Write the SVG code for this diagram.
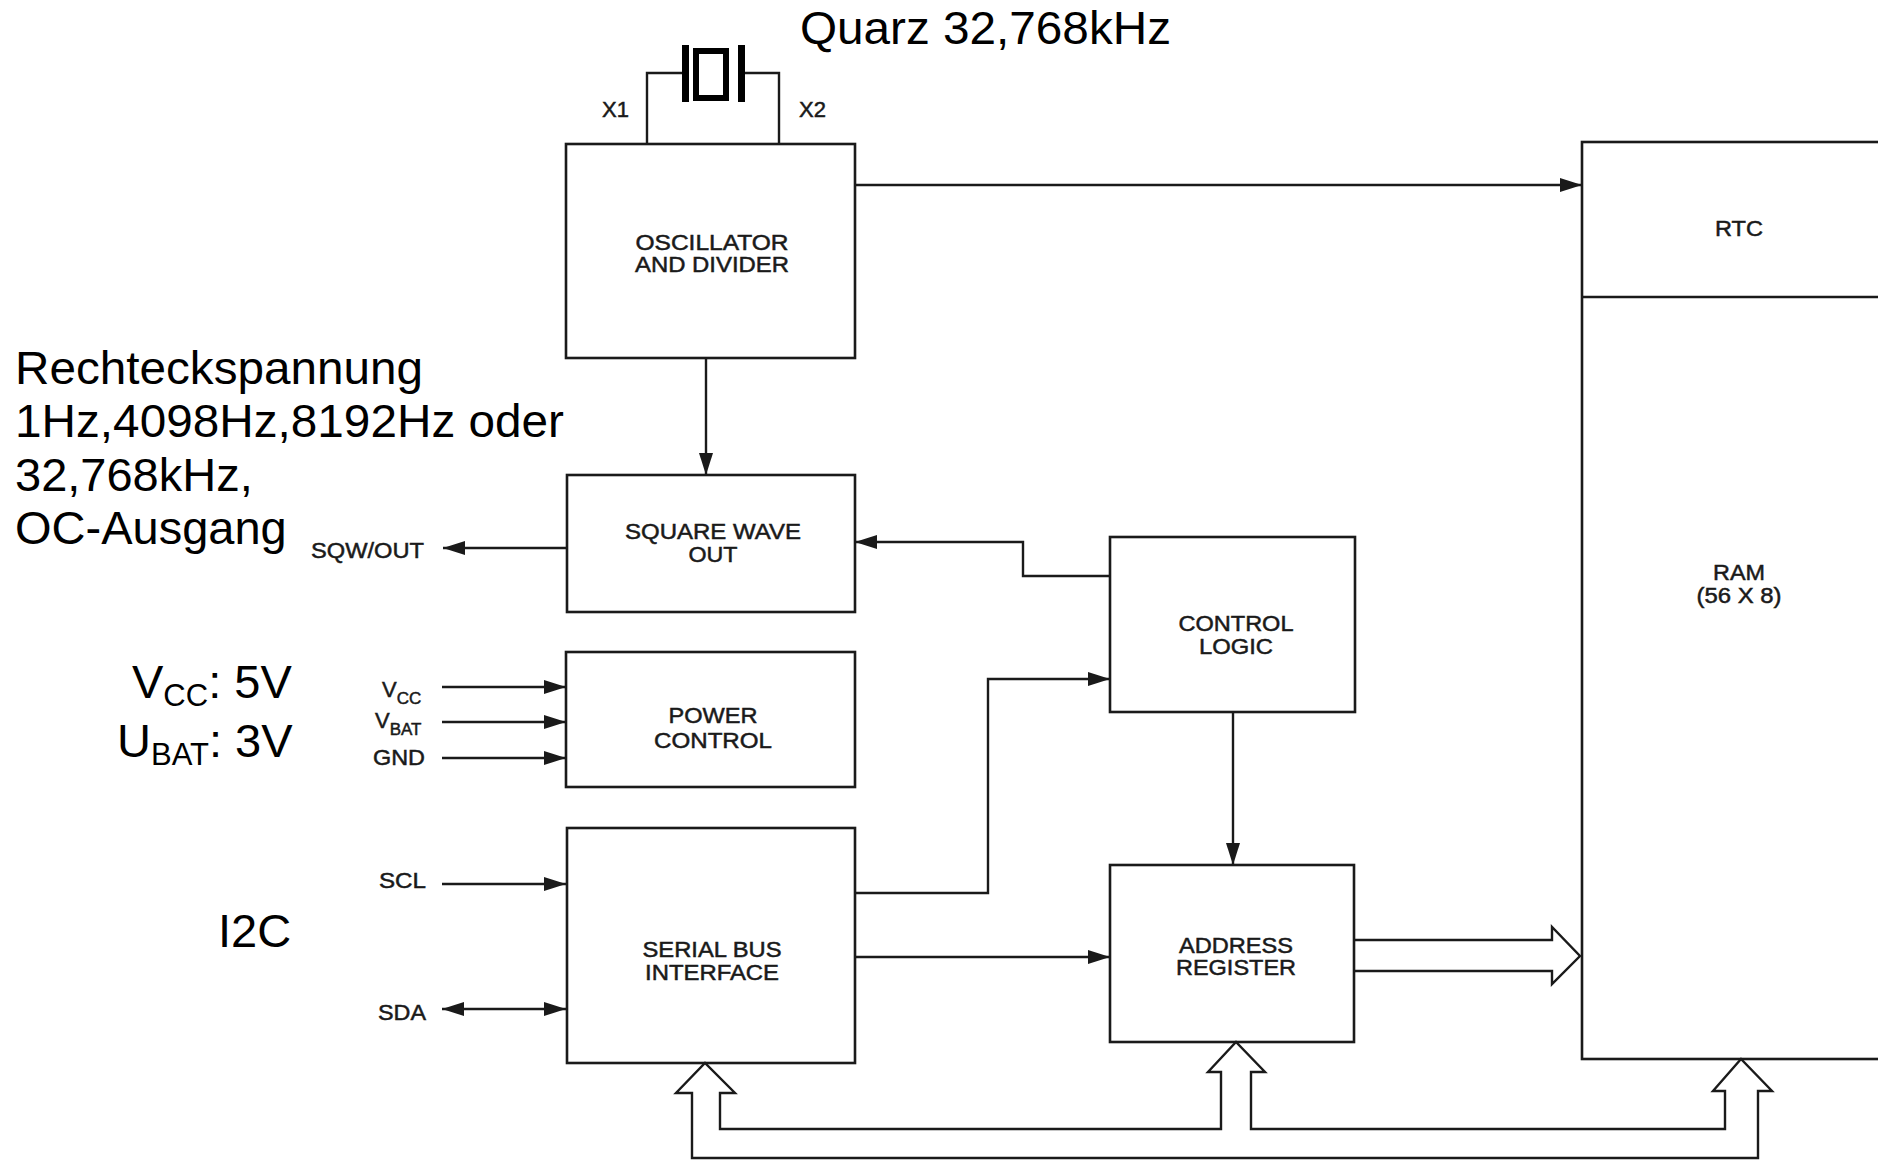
<svg xmlns="http://www.w3.org/2000/svg" width="1878" height="1161" viewBox="0 0 1878 1161">
<style>
.box{fill:none;stroke:#1a1a1a;stroke-width:2.6}
.ln{fill:none;stroke:#1a1a1a;stroke-width:2.4}
.big{font-family:"Liberation Sans",Arial,sans-serif;font-size:47px;fill:#000}
.sub{font-family:"Liberation Sans",Arial,sans-serif;font-size:31px;fill:#000}
.lbl{font-family:"Liberation Sans",Arial,sans-serif;font-size:22px;fill:#1a1a1a;stroke:#1a1a1a;stroke-width:0.5;text-anchor:middle}
.pin{font-family:"Liberation Sans",Arial,sans-serif;font-size:22px;fill:#1a1a1a;stroke:#1a1a1a;stroke-width:0.5}
.pinsub{font-family:"Liberation Sans",Arial,sans-serif;font-size:17px;fill:#1a1a1a}
</style>
<defs>
<marker id="ah" markerWidth="22" markerHeight="14" refX="22" refY="7" orient="auto-start-reverse" markerUnits="userSpaceOnUse">
<path d="M0,0 L22,7 L0,14 Z" fill="#1a1a1a"/>
</marker>
</defs>
<rect width="1878" height="1161" fill="#fff"/>

<g id="annotations">
<text class="big" x="800" y="44" textLength="371" lengthAdjust="spacingAndGlyphs">Quarz 32,768kHz</text>
<text class="big" x="15" y="384" textLength="408" lengthAdjust="spacingAndGlyphs">Rechteckspannung</text>
<text class="big" x="15" y="437" textLength="549" lengthAdjust="spacingAndGlyphs">1Hz,4098Hz,8192Hz oder</text>
<text class="big" x="15" y="491">32,768kHz,</text>
<text class="big" x="15" y="544">OC-Ausgang</text>
<text class="big" x="132" y="698">V<tspan class="sub" dy="8">CC</tspan><tspan dy="-8">: 5V</tspan></text>
<text class="big" x="117" y="757">U<tspan class="sub" dy="8">BAT</tspan><tspan dy="-8">: 3V</tspan></text>
<text class="big" x="218" y="947">I2C</text>
</g>

<g id="crystal">
<path class="ln" d="M647,144 V73 H685 M779,144 V73 H741"/>
<rect x="682" y="45" width="7" height="57" fill="#000"/>
<rect x="738" y="45" width="7" height="57" fill="#000"/>
<rect x="696" y="51" width="30" height="47" fill="none" stroke="#000" stroke-width="6"/>
<text class="pin" x="602" y="117" font-size="18">X1</text>
<text class="pin" x="799" y="117" font-size="18">X2</text>
</g>

<g id="osc">
<rect class="box" x="566" y="144" width="289" height="214"/>
<text class="lbl" x="712" y="250" textLength="153" lengthAdjust="spacingAndGlyphs">OSCILLATOR</text>
<text class="lbl" x="712" y="272" textLength="154" lengthAdjust="spacingAndGlyphs">AND DIVIDER</text>
</g>

<g id="sqw">
<rect class="box" x="567" y="475" width="288" height="137"/>
<text class="lbl" x="713" y="539" textLength="176" lengthAdjust="spacingAndGlyphs">SQUARE WAVE</text>
<text class="lbl" x="713" y="562" textLength="49" lengthAdjust="spacingAndGlyphs">OUT</text>
</g>

<g id="power">
<rect class="box" x="566" y="652" width="289" height="135"/>
<text class="lbl" x="713" y="723" textLength="89" lengthAdjust="spacingAndGlyphs">POWER</text>
<text class="lbl" x="713" y="748" textLength="118" lengthAdjust="spacingAndGlyphs">CONTROL</text>
</g>

<g id="serial">
<rect class="box" x="567" y="828" width="288" height="235"/>
<text class="lbl" x="712" y="957" textLength="139" lengthAdjust="spacingAndGlyphs">SERIAL BUS</text>
<text class="lbl" x="712" y="980" textLength="134" lengthAdjust="spacingAndGlyphs">INTERFACE</text>
</g>

<g id="control">
<rect class="box" x="1110" y="537" width="245" height="175"/>
<text class="lbl" x="1236" y="631" textLength="115" lengthAdjust="spacingAndGlyphs">CONTROL</text>
<text class="lbl" x="1236" y="654" textLength="74" lengthAdjust="spacingAndGlyphs">LOGIC</text>
</g>

<g id="address">
<rect class="box" x="1110" y="865" width="244" height="177"/>
<text class="lbl" x="1236" y="953" textLength="114" lengthAdjust="spacingAndGlyphs">ADDRESS</text>
<text class="lbl" x="1236" y="975" textLength="120" lengthAdjust="spacingAndGlyphs">REGISTER</text>
</g>

<g id="memory">
<rect class="box" x="1582" y="142" width="330" height="917"/>
<line class="box" x1="1582" y1="297" x2="1912" y2="297"/>
<text class="lbl" x="1739" y="236" textLength="48" lengthAdjust="spacingAndGlyphs">RTC</text>
<text class="lbl" x="1739" y="580" textLength="52" lengthAdjust="spacingAndGlyphs">RAM</text>
<text class="lbl" x="1739" y="603" textLength="85" lengthAdjust="spacingAndGlyphs">(56 X 8)</text>
</g>

<g id="pins">
<text class="pin" x="311" y="558" textLength="113" lengthAdjust="spacingAndGlyphs">SQW/OUT</text>
<text class="pin" x="382" y="697">V<tspan class="pinsub" dy="7">CC</tspan></text>
<text class="pin" x="375" y="728">V<tspan class="pinsub" dy="7">BAT</tspan></text>
<text class="pin" x="373" y="765" textLength="52" lengthAdjust="spacingAndGlyphs">GND</text>
<text class="pin" x="379" y="888" textLength="47" lengthAdjust="spacingAndGlyphs">SCL</text>
<text class="pin" x="378" y="1020" textLength="48" lengthAdjust="spacingAndGlyphs">SDA</text>
</g>

<g id="connectors">
<path class="ln" d="M855,185 H1582" marker-end="url(#ah)"/>
<path class="ln" d="M706,358 V475" marker-end="url(#ah)"/>
<path class="ln" d="M567,548 H443" marker-end="url(#ah)"/>
<path class="ln" d="M1110,576 H1023 V542 H855" marker-end="url(#ah)"/>
<path class="ln" d="M442,687 H566" marker-end="url(#ah)"/>
<path class="ln" d="M442,722 H566" marker-end="url(#ah)"/>
<path class="ln" d="M442,758 H566" marker-end="url(#ah)"/>
<path class="ln" d="M442,884 H566" marker-end="url(#ah)"/>
<path class="ln" d="M442,1009 H566" marker-start="url(#ah)" marker-end="url(#ah)"/>
<path class="ln" d="M855,893 H988 V679 H1110" marker-end="url(#ah)"/>
<path class="ln" d="M855,957 H1110" marker-end="url(#ah)"/>
<path class="ln" d="M1233,712 V865" marker-end="url(#ah)"/>
<path class="ln" d="M1354,940 H1552 V927 L1580,956 L1552,984 V971 H1354"/>
<path class="ln" d="M692,1158 V1093 H676 L705,1063 L735,1093 H720 V1129 H1221 V1072 H1208 L1236,1042 L1265,1072 H1251 V1129 H1725 V1091 H1713 L1741,1059 L1772,1091 H1758 V1158 Z"/>
</g>
</svg>
